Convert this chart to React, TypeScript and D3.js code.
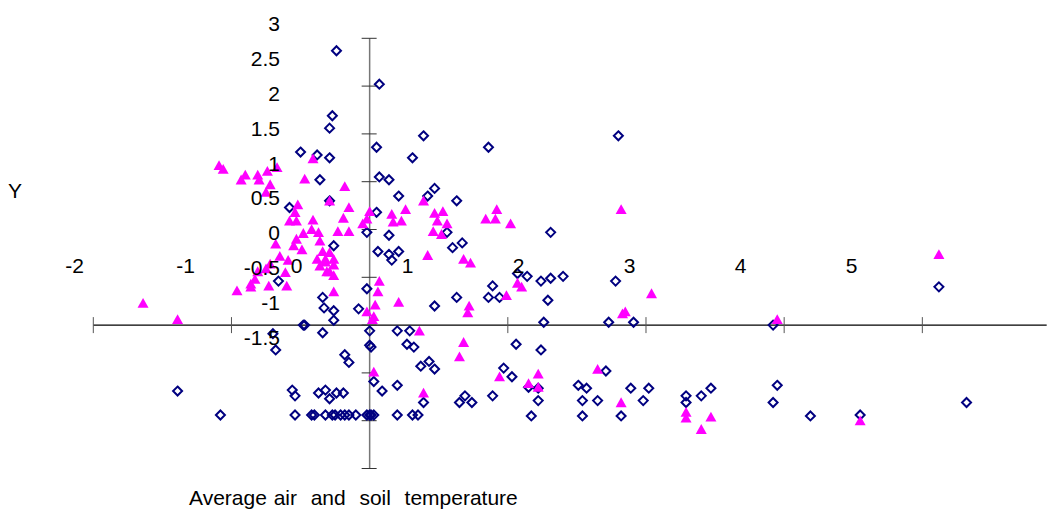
import React, { useEffect, useRef } from 'react';
import * as d3 from 'd3';

// open diamonds (navy)
const seriesDiamond: [number, number][] = [
  [-0.24, 2.87], [0.07, 2.52], [-0.27, 2.19], [-0.29, 2.06], [-0.5, 1.81], [-0.38, 1.78],
  [-0.29, 1.75], [0.39, 1.98], [0.05, 1.86], [0.86, 1.86], [1.8, 1.98], [0.31, 1.75],
  [-0.36, 1.52], [0.07, 1.55], [0.14, 1.52], [0.21, 1.35], [0.42, 1.35], [0.47, 1.43],
  [0.63, 1.3], [-0.29, 1.3], [-0.58, 1.23], [0.05, 1.18], [-0.02, 0.97], [0.14, 0.94],
  [0.56, 0.97], [1.31, 0.97], [-0.26, 0.83], [0.06, 0.77], [0.14, 0.74], [0.21, 0.77],
  [0.16, 0.68], [0.6, 0.81], [0.67, 0.86], [-0.66, 0.46], [-0.02, 0.38], [-0.34, 0.29],
  [-0.33, 0.18], [-0.26, 0.15], [-0.26, 0.05], [-0.08, 0.17], [0.47, 0.2], [0.63, 0.29],
  [0.89, 0.41], [0.86, 0.29], [0.94, 0.29], [1.07, 0.54], [1.14, 0.51], [1.24, 0.46],
  [1.31, 0.49], [1.4, 0.51], [1.29, 0.26], [1.78, 0.46], [1.26, 0.03], [1.73, 0.03],
  [1.91, 0.03], [-0.48, 0], [-0.47, 0], [0, -0.06], [0.2, -0.06], [0.29, -0.06],
  [-0.34, -0.08], [-0.7, -0.09], [0, -0.21], [0.01, -0.23], [0.27, -0.2], [0.32, -0.23],
  [1.06, -0.2], [1.24, -0.26], [-0.68, -0.26], [-0.18, -0.31], [-0.15, -0.39], [0.37, -0.43],
  [0.43, -0.38], [0.47, -0.46], [0.03, -0.59], [0.09, -0.69], [0.2, -0.63], [0.97, -0.45],
  [1.03, -0.54], [1.15, -0.65], [1.22, -0.66], [1.51, -0.63], [1.57, -0.66], [1.71, -0.48],
  [1.89, -0.66], [2.02, -0.66], [1.22, -0.79], [1.54, -0.79], [1.65, -0.79], [1.98, -0.79],
  [0.65, -0.81], [0.69, -0.74], [0.74, -0.81], [0.39, -0.81], [0.89, -0.74], [-1.39, -0.69],
  [-0.56, -0.68], [-0.54, -0.74], [-0.37, -0.71], [-0.32, -0.68], [-0.29, -0.77], [-0.24, -0.71],
  [-0.19, -0.71], [-1.08, -0.94], [-0.54, -0.94], [-0.42, -0.94], [-0.4, -0.94], [-0.32, -0.94],
  [-0.27, -0.94], [-0.25, -0.94], [-0.21, -0.94], [-0.18, -0.94], [-0.15, -0.94], [-0.1, -0.94],
  [-0.02, -0.94], [0, -0.94], [0.01, -0.94], [0.03, -0.94], [0.2, -0.94], [0.31, -0.94],
  [0.35, -0.94], [1.17, -0.95], [1.54, -0.95], [1.82, -0.95], [2.29, -0.74], [2.29, -0.81],
  [2.4, -0.74], [2.47, -0.66], [2.95, -0.63], [2.92, -0.81], [3.19, -0.95], [3.55, -0.94],
  [4.32, -0.81], [4.12, 0.4], [2.92, 0],
];

// filled triangles (magenta)
const seriesTriangle: [number, number][] = [
  [-1.64, 0.23], [-1.39, 0.06], [-1.09, 1.67], [-1.06, 1.63], [-0.93, 1.52], [-0.9, 1.57],
  [-0.81, 1.57], [-0.8, 1.52], [-0.74, 1.61], [-0.67, 1.65], [-0.72, 1.47], [-0.75, 1.39],
  [-0.47, 1.53], [-0.41, 1.74], [-0.52, 1.26], [-0.54, 1.18], [-0.58, 1.09], [-0.53, 1.09],
  [-0.41, 1.1], [-0.42, 1.0], [-0.48, 0.96], [-0.37, 0.97], [-0.36, 0.88], [-0.53, 0.9],
  [-0.68, 0.85], [-0.55, 0.83], [-0.49, 0.79], [-0.65, 0.72], [-0.59, 0.68], [-0.61, 0.55],
  [-0.72, 0.64], [-0.75, 0.59], [-0.81, 0.56], [-0.83, 0.48], [-0.86, 0.43], [-0.86, 0.4],
  [-0.96, 0.36], [-0.73, 0.41], [-0.6, 0.41], [-0.38, 0.69], [-0.36, 0.62], [-0.32, 0.69],
  [-0.31, 0.56], [-0.29, 1.3], [-0.18, 1.45], [-0.15, 1.23], [-0.19, 1.12], [-0.23, 0.98],
  [-0.15, 0.98], [0, 1.19], [-0.02, 1.11], [-0.05, 1.06], [0.16, 1.16], [0.17, 1.08],
  [0.23, 1.09], [0.26, 1.21], [0.39, 1.3], [0.47, 1.17], [0.53, 1.19], [0.49, 1.09],
  [0.56, 1.06], [0.46, 0.98], [0.52, 0.95], [0.84, 1.11], [0.91, 1.11], [0.92, 1.21],
  [1.02, 1.06], [1.82, 1.21], [0.42, 0.73], [0.68, 0.69], [0.73, 0.65], [-0.34, 0.77],
  [-0.29, 0.76], [-0.26, 0.69], [-0.32, 0.66], [-0.26, 0.63], [-0.29, 0.56], [-0.26, 0.52],
  [-0.26, 0.35], [0.07, 0.46], [0.06, 0.35], [0.21, 0.24], [0.04, 0.21], [-0.02, 0.14],
  [0.03, 0.09], [0.02, 0.06], [0.72, 0.2], [0.71, 0.13], [0.36, -0.06], [0.68, -0.18],
  [0.65, -0.33], [0.03, -0.49], [0.39, -0.71], [0.94, -0.54], [1.15, -0.61], [1.22, -0.51],
  [1.22, -0.65], [1.65, -0.46], [1.82, -0.81], [0.99, 0.31], [1.07, 0.44], [1.1, 0.4],
  [2.04, 0.33], [1.83, 0.12], [1.85, 0.14], [2.29, -0.91], [2.29, -0.97], [2.4, -1.09],
  [2.47, -0.96], [3.55, -1.0], [4.12, 0.74], [2.95, 0.06],
];

const xTickValues = [-2, -1, 0, 1, 2, 3, 4];
const yTickValues = [3, 2.5, 2, 1.5, 1, 0.5, 0, -0.5, -1, -1.5];
const xLabelValues = [-2, -1, 0, 1, 2, 3, 4, 5];
const yLabelValues = [3, 2.5, 2, 1.5, 1, 0.5, 0, -0.5, -1, -1.5];

const W = 1049;
const H = 512;
const FONT = "'Liberation Sans', Arial, sans-serif";
const FS = 21;

const App = () => {
  const svgRef = useRef<SVGSVGElement>(null);

  useEffect(() => {
    const svg = d3.select(svgRef.current);
    svg.selectAll('*').remove();

    const x = d3.scaleLinear().domain([-2, 5]).range([93.3, 1060.5]);
    const y = d3.scaleLinear().domain([-1.5, 3]).range([468.5, 38.3]);

    // tick labels sit on their own (shifted) positions, as in the original
    const labelX = d3.scaleLinear().domain([-2, 5]).range([74.5, 851.5]);
    const labelY = d3.scaleLinear().domain([-1.5, 3]).range([345, 31]);

    // horizontal axis
    svg.append('line')
      .attr('x1', x(-2)).attr('x2', x(4.9))
      .attr('y1', y(0)).attr('y2', y(0))
      .attr('stroke', '#000').attr('stroke-width', 1.2);
    svg.selectAll('.xtick')
      .data(xTickValues)
      .enter()
      .append('line')
      .attr('class', 'xtick')
      .attr('x1', d => x(d)).attr('x2', d => x(d))
      .attr('y1', y(0) - 8).attr('y2', y(0) + 8)
      .attr('stroke', '#555').attr('stroke-width', 1);

    // vertical axis
    svg.append('line')
      .attr('x1', x(0)).attr('x2', x(0))
      .attr('y1', y(3)).attr('y2', y(-1.5))
      .attr('stroke', '#777').attr('stroke-width', 1.5);
    svg.selectAll('.ytick')
      .data(yTickValues)
      .enter()
      .append('line')
      .attr('class', 'ytick')
      .attr('x1', x(0) - 8).attr('x2', x(0) + 7)
      .attr('y1', d => y(d)).attr('y2', d => y(d))
      .attr('stroke', '#333').attr('stroke-width', 1);

    // diamonds
    svg.selectAll('.dia')
      .data(seriesDiamond)
      .enter()
      .append('path')
      .attr('class', 'dia')
      .attr('d', 'M0,-4.5L4.5,0L0,4.5L-4.5,0Z')
      .attr('transform', d => `translate(${x(d[0])},${y(d[1])})`)
      .attr('fill', 'none')
      .attr('stroke', '#000080')
      .attr('stroke-width', 2);

    // triangles
    svg.selectAll('.tri')
      .data(seriesTriangle)
      .enter()
      .append('path')
      .attr('class', 'tri')
      .attr('d', 'M0,-5.2L5.5,4.6L-5.5,4.6Z')
      .attr('transform', d => `translate(${x(d[0])},${y(d[1])})`)
      .attr('fill', '#ff00ff');

    // tick labels
    svg.selectAll('.xlab')
      .data(xLabelValues)
      .enter()
      .append('text')
      .attr('class', 'xlab')
      .attr('x', d => labelX(d))
      .attr('y', 273)
      .attr('text-anchor', 'middle')
      .attr('font-family', FONT)
      .attr('font-size', FS)
      .text(d => String(d));

    svg.selectAll('.ylab')
      .data(yLabelValues)
      .enter()
      .append('text')
      .attr('class', 'ylab')
      .attr('x', 280)
      .attr('y', d => labelY(d))
      .attr('text-anchor', 'end')
      .attr('font-family', FONT)
      .attr('font-size', FS)
      .text(d => String(d));

    svg.append('text')
      .attr('x', 15).attr('y', 198)
      .attr('text-anchor', 'middle')
      .attr('font-family', FONT)
      .attr('font-size', FS)
      .text('Y');

    svg.append('text')
      .attr('x', 189).attr('y', 505)
      .attr('font-family', FONT)
      .attr('font-size', FS)
      .style('white-space', 'pre')
      .style('word-spacing', '1px')
      .text('Average air  and  soil  temperature');
  }, []);

  return (
    <svg
      ref={svgRef}
      width={W}
      height={H}
      style={{ position: 'absolute', left: 0, top: 0, background: '#fff' }}
    />
  );
};

export default App;
